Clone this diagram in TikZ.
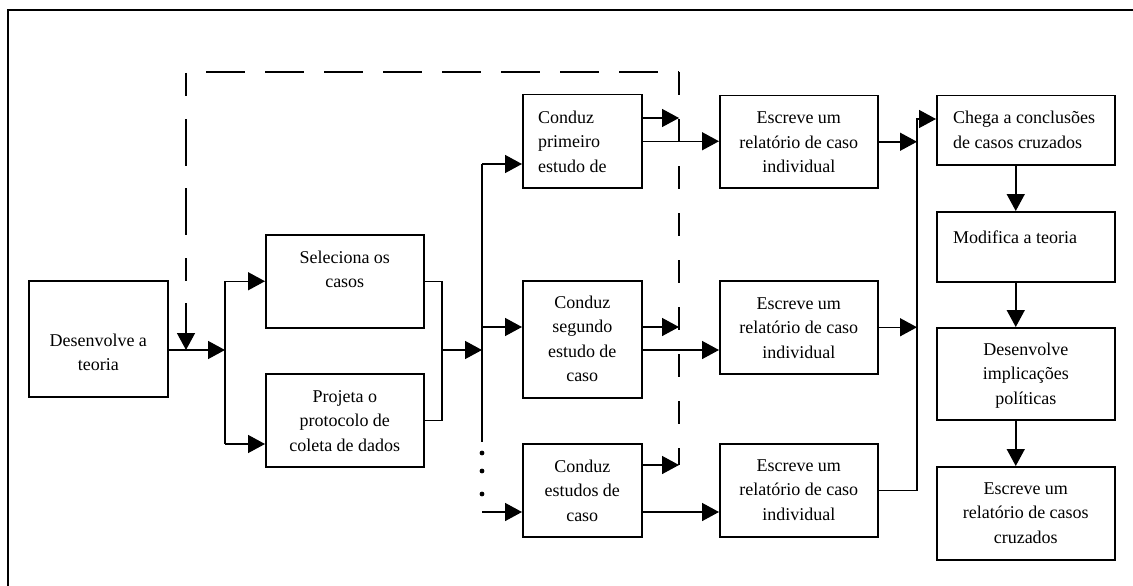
\documentclass[tikz,border=0pt]{standalone}
\usepackage{fontspec}
\setmainfont{Liberation Serif}
\usetikzlibrary{arrows.meta,calc}

% text blocks inside the boxes: first baseline is the node's base anchor
\newcommand\boxtextc[1]{\parbox[t]{176pt}{\centering #1}}
\newcommand\boxtextl[1]{\parbox[t]{176pt}{\raggedright #1}}

\begin{document}
\begin{tikzpicture}[x=1pt,y=-1pt,
  box/.style={draw, line width=1.5pt, inner sep=0pt, anchor=north west},
  txt/.style={inner sep=0pt, anchor=base, font=\fontsize{18}{24.5}\selectfont},
  ltxt/.style={txt, anchor=base west},
  conn/.style={line width=1.5pt},
  arr/.style={conn, -{Triangle[length=17pt,width=18pt]}},
  loopv/.style={line width=1.5pt, dash pattern=on 23pt off 24pt},
]
\fill[white] (0,0) rectangle (1133,586);
\useasboundingbox (0,0) rectangle (1133,586);

% outer frame (top and left edges)
\draw[line width=2.2pt] (8,586) -- (8,10) -- (1133,10);

% ---- boxes ----
\node[box, minimum width=139pt, minimum height=116pt] (dev)  at (28,280)  {};
\node[box, minimum width=158pt, minimum height=93pt]  (sel)  at (265,234) {};
\node[box, minimum width=158pt, minimum height=93pt]  (proj) at (265,373) {};
\node[box, minimum width=119pt, minimum height=93pt]  (c1)   at (522,94)  {};
\node[box, minimum width=119pt, minimum height=117pt] (c2)   at (522,280) {};
\node[box, minimum width=119pt, minimum height=93pt]  (c3)   at (522,443) {};
\node[box, minimum width=158pt, minimum height=92pt]  (e1)   at (719,95)  {};
\node[box, minimum width=158pt, minimum height=93pt]  (e2)   at (719,280) {};
\node[box, minimum width=158pt, minimum height=93pt]  (e3)   at (719,443) {};
\node[box, minimum width=178pt, minimum height=69pt]  (ch)   at (936,95)  {};
\node[box, minimum width=178pt, minimum height=70pt]  (mod)  at (936,211) {};
\node[box, minimum width=178pt, minimum height=92pt]  (imp)  at (936,327) {};
\node[box, minimum width=178pt, minimum height=93pt]  (cr)   at (936,466) {};

% ---- box texts ----
\node[txt] (devt)  at ([yshift=-66pt]dev.north)  {\boxtextc{Desenvolve a\\teoria}};
\node[txt] (selt)  at ([yshift=-29pt]sel.north)  {\boxtextc{Seleciona os\\casos}};
\node[txt] (projt) at ([yshift=-29pt]proj.north) {\boxtextc{Projeta o\\protocolo de\\coleta de dados}};
\node[ltxt] (c1t)  at ([xshift=16pt,yshift=-29pt]c1.north west) {\boxtextl{Conduz\\primeiro\\estudo de}};
\node[txt] (c2t)   at ([yshift=-28pt]c2.north)   {\boxtextc{Conduz\\segundo\\estudo de\\caso}};
\node[txt] (c3t)   at ([yshift=-29pt]c3.north)   {\boxtextc{Conduz\\estudos de\\caso}};
\node[txt] (e1t)   at ([yshift=-29pt]e1.north)   {\boxtextc{Escreve um\\relatório de caso\\individual}};
\node[txt] (e2t)   at ([yshift=-29pt]e2.north)   {\boxtextc{Escreve um\\relatório de caso\\individual}};
\node[txt] (e3t)   at ([yshift=-28pt]e3.north)   {\boxtextc{Escreve um\\relatório de caso\\individual}};
\node[ltxt] (cht)  at ([xshift=17pt,yshift=-29pt]ch.north west)  {\boxtextl{Chega a conclusões\\de casos cruzados}};
\node[ltxt] (modt) at ([xshift=17pt,yshift=-32pt]mod.north west) {\boxtextl{Modifica a teoria}};
\node[txt] (impt)  at ([yshift=-28pt]imp.north)  {\boxtextc{Desenvolve\\implicações\\políticas}};
\node[txt] (crt)   at ([yshift=-28pt]cr.north)   {\boxtextc{Escreve um\\relatório de casos\\cruzados}};

% ---- junction points ----
\coordinate (split) at (225,350);
\coordinate (pin)   at (225,444);
\coordinate (merge) at (442,350);
\coordinate (bus)   at (482,350);
\coordinate (b1)    at (482,164);
\coordinate (b2)    at (482,327);
\coordinate (b3)    at (482,512);
\coordinate (busend) at (482,442);
\coordinate (d1)    at (679,118);
\coordinate (d2)    at (679,327);
\coordinate (d3)    at (679,465);
\coordinate (l2)    at (719,350);
\coordinate (l3)    at (719,512);
\coordinate (cj)    at (917,119);
\coordinate (fb)    at (186,350);
\coordinate (loopL) at (186,72);
\coordinate (loopR) at (679,72);
\coordinate (loopB) at (679,465);

% ---- design stage ----
\draw[arr] (dev.east |- split) -- (split);
\draw[conn] (split |- sel.west) -- (pin);
\draw[arr] (split |- sel.west) -- (sel.west);
\draw[arr] (pin) -- (pin -| proj.west);

% ---- case studies ----
\draw[conn] (sel.east) -| (merge);
\draw[conn] (proj.east) -| (merge);
\draw[arr] (merge) -- (bus);
\draw[conn] (b1) -- (busend);
\draw[arr] (b1) -- (b1 -| c1.west);
\draw[arr] (b2) -- (b2 -| c2.west);
\draw[arr] (b3) -- (b3 -| c3.west);
\fill (482,453) circle (2.4pt) (482,471) circle (2.4pt) (482,494) circle (2.4pt);

% ---- feedback to the dashed loop ----
\draw[arr] (c1.east |- d1) -- (d1);
\draw[arr] (c2.east |- d2) -- (d2);
\draw[arr] (c3.east |- d3) -- (d3);
\draw[loopv] (loopR) -- (loopB);
\draw[line width=1.5pt, dash pattern=on 39pt off 20pt, dash phase=39pt] (loopL) -- (loopR);
\draw[line width=1.5pt, dash pattern=on 23pt off 23pt on 47pt off 22pt on 47pt off 23pt on 23pt off 22pt on 200pt,
      -{Triangle[length=17pt,width=18pt]}] ([yshift=-1pt]loopL) -- (fb);

% ---- individual reports ----
\draw[arr] (c1.east) -- (c1.east -| e1.west);
\draw[arr] (c2.east |- l2) -- (l2);
\draw[arr] (c3.east |- l3) -- (l3);

% ---- cross-case analysis ----
\draw[arr] (e1.east) -- (e1.east -| cj);
\draw[arr] (e2.east) -- (e2.east -| cj);
\draw[arr] (e3.east) -| (cj) -- (cj -| ch.west);
\draw[arr] ([xshift=-10pt]ch.south)  -- ([xshift=-10pt]mod.north);
\draw[arr] ([xshift=-10pt]mod.south) -- ([xshift=-10pt]imp.north);
\draw[arr] ([xshift=-10pt]imp.south) -- ([xshift=-10pt]cr.north);
\end{tikzpicture}
\end{document}
